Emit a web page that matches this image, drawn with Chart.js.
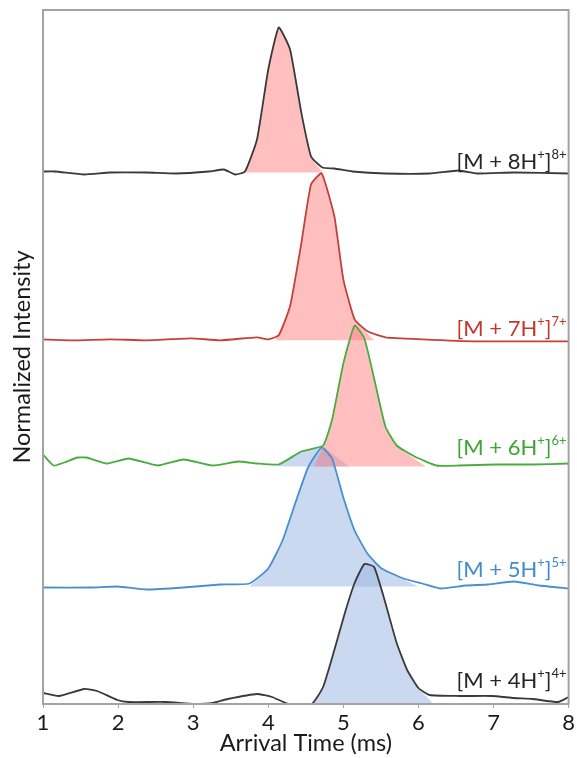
<!DOCTYPE html>
<html><head><meta charset="utf-8">
<script src="https://cdn.jsdelivr.net/npm/chart.js@4/dist/chart.umd.min.js"></script>
<style>html,body{margin:0;padding:0;background:#fff;}#wrap{width:577px;height:758px;}</style>
</head><body><div id="wrap"><canvas id="c" width="577" height="758"></canvas></div>
<script>
// ---- data (arrival time in ms, intensity above each trace's baseline, arbitrary units) ----
const xTickValues = [1, 2, 3, 4, 5, 6, 7, 8];
const seriesNames = ["[M + 8H⁺]⁸⁺", "[M + 7H⁺]⁷⁺", "[M + 6H⁺]⁶⁺", "[M + 5H⁺]⁵⁺", "[M + 4H⁺]⁴⁺"];
const offsets = [5.315, 3.637, 2.375, 1.175, 0];

const time8 = [1.0,1.16,1.55,1.89,2.38,2.77,3.21,3.41,3.56,3.69,3.85,4.0,4.14,4.29,4.44,4.57,4.72,4.88,5.12,5.56,6.15,6.54,6.78,7.27,8.0];
const int8  = [0.01,0.01,-0.02,0,0,-0.01,0.01,0.03,-0.02,0.01,0.33,1.03,1.45,1.23,0.6,0.16,0.05,0.04,0.01,-0.01,-0.01,0.02,-0.01,0,-0.01];
const time7 = [1.0,1.41,1.89,2.38,2.97,3.36,3.85,4.0,4.14,4.29,4.44,4.57,4.71,4.88,5.0,5.15,5.32,5.56,6.05,6.78,8.0];
const int7  = [0.01,0,0.01,0,0.02,0,0.03,0.01,0.05,0.34,0.97,1.56,1.67,1.24,0.61,0.21,0.09,0.03,0.01,-0.01,-0.01];
const time6 = [1.0,1.14,1.28,1.46,1.58,1.85,2.14,2.53,2.87,3.26,3.6,3.85,4.14,4.44,4.73,4.85,5.0,5.15,5.28,5.41,5.56,5.71,5.95,6.24,6.54,7.03,7.52,8.0];
const int6  = [0.12,0.01,0.04,0.09,0.09,0.03,0.08,0.01,0.07,0.01,0.05,0.03,0.02,0.15,0.21,0.47,1.03,1.41,1.28,0.88,0.4,0.21,0.1,0.01,0.01,0.02,0.02,0.03];
const time5 = [1.0,1.65,1.99,2.38,2.87,3.36,3.75,4.0,4.19,4.34,4.53,4.71,4.85,5.0,5.15,5.32,5.51,5.8,6.05,6.29,6.63,6.93,7.27,7.61,8.0];
const int5  = [-0.01,-0.01,0,-0.03,-0.01,0.02,0.03,0.18,0.46,0.79,1.19,1.39,1.28,0.89,0.56,0.33,0.18,0.08,0.03,-0.02,0.01,0.02,0.05,0.01,-0.02];
const time4 = [1.0,1.21,1.55,1.72,1.99,2.14,2.63,3.02,3.26,3.46,3.85,4.05,4.27,4.58,4.73,4.88,5.02,5.15,5.28,5.41,5.56,5.71,5.85,6.0,6.15,6.54,6.98,7.27,7.52,7.86,8.0];
const int4  = [0.11,0.08,0.15,0.13,0.04,0.02,0.02,0,0.01,0.05,0.1,0.07,0,0,0.17,0.54,0.91,1.21,1.4,1.37,1.01,0.61,0.34,0.16,0.09,0.08,0.08,0.06,0.05,0.02,0.07];

// shaded conformer components (red = extended, blue = compact)
const fill8Time = [3.69,3.85,4.0,4.14,4.29,4.44,4.57,4.72];
const fill8Int  = [0,0.33,1.03,1.45,1.23,0.6,0.16,0];
const fill7Time = [4.1,4.29,4.44,4.57,4.71,4.88,5.0,5.15,5.41];
const fill7Int  = [0,0.34,0.97,1.56,1.67,1.24,0.61,0.21,0];
const fill6RedTime = [4.61,4.73,4.85,5.0,5.15,5.28,5.41,5.56,5.71,6.1];
const fill6RedInt  = [0,0.2,0.47,1.03,1.41,1.28,0.88,0.4,0.21,0];
const fill6BlueTime = [4.12,4.3,4.44,4.6,4.73,4.9,5.08];
const fill6BlueInt  = [0,0.1,0.15,0.19,0.2,0.1,0];
const fill5Time = [3.75,4.0,4.19,4.34,4.53,4.71,4.85,5.0,5.15,5.32,5.51,6.0];
const fill5Int  = [0,0.18,0.46,0.79,1.19,1.39,1.28,0.89,0.56,0.33,0.18,0];
const fill4Time = [4.58,4.73,4.88,5.02,5.15,5.28,5.41,5.56,5.71,5.85,6.0,6.2];
const fill4Int  = [0,0.17,0.54,0.91,1.21,1.4,1.37,1.01,0.61,0.34,0.16,0];

// ---- styling ----
const lineColors = ["#3a3a3a", "#c4413b", "#4aac3f", "#4a8fd0", "#3a3a3a"];
const labelColors = ["#262626", "#c0392b", "#3ca635", "#3f8ccf", "#262626"];
const RED_FILL = "rgba(255,128,128,0.5)";
const BLUE_FILL = "rgba(150,180,226,0.5)";
const FONT = "Lato, 'Open Sans', sans-serif";

function pts(t, v, off) { return t.map((x, i) => ({ x: x, y: v[i] + off })); }

const traces = [[time8, int8], [time7, int7], [time6, int6], [time5, int5], [time4, int4]];
const datasets = [];
traces.forEach((tr, k) => {
  datasets.push({ label: seriesNames[k], data: pts(tr[0], tr[1], offsets[k]), borderColor: lineColors[k],
    borderWidth: 1.8, pointRadius: 0, tension: 0.15, fill: false, order: 1 });
});
const fills = [
  [fill8Time, fill8Int, 0, RED_FILL], [fill7Time, fill7Int, 1, RED_FILL],
  [fill6RedTime, fill6RedInt, 2, RED_FILL], [fill6BlueTime, fill6BlueInt, 2, BLUE_FILL],
  [fill5Time, fill5Int, 3, BLUE_FILL], [fill4Time, fill4Int, 4, BLUE_FILL]
];
fills.forEach(f => {
  datasets.push({ label: "", data: pts(f[0], f[1], offsets[f[2]]), borderWidth: 0, borderColor: "rgba(0,0,0,0)",
    backgroundColor: f[3], pointRadius: 0, tension: 0.15, fill: { value: offsets[f[2]] }, order: 2 });
});

const labelLift = [12, 12, 20, 18, 24];
const supMap = { "⁺": "+", "⁰": "0", "¹": "1", "²": "2", "³": "3", "⁴": "4", "⁵": "5", "⁶": "6", "⁷": "7", "⁸": "8", "⁹": "9" };

const framePlugin = {
  id: "frame",
  afterDatasetsDraw(chart) {
    const { ctx, chartArea: a, scales } = chart;
    ctx.save();
    ctx.strokeStyle = "#a3a3a3";
    ctx.lineWidth = 2;
    ctx.strokeRect(a.left, a.top, a.right - a.left, a.bottom - a.top);
    // series labels
    const y = scales.y;
    seriesNames.forEach((name, k) => {
      const runs = [];
      for (const ch of name) {
        const sup = supMap[ch] !== undefined;
        const c = sup ? supMap[ch] : ch;
        if (runs.length && runs[runs.length - 1].sup === sup) runs[runs.length - 1].txt += c;
        else runs.push({ sup: sup, txt: c });
      }
      const main = "22px " + FONT, small = "13px " + FONT;
      let total = 0;
      runs.forEach(r => { ctx.font = r.sup ? small : main; r.w = ctx.measureText(r.txt).width; total += r.w; });
      let x = a.right - 2 - total;
      const cy = y.getPixelForValue(offsets[k]) - labelLift[k];
      ctx.fillStyle = labelColors[k];
      ctx.textBaseline = "alphabetic";
      runs.forEach(r => {
        ctx.font = r.sup ? small : main;
        ctx.fillText(r.txt, x, r.sup ? cy - 2 : cy + 8);
        x += r.w;
      });
    });
    ctx.restore();
  }
};

new Chart(document.getElementById("c"), {
  type: "line",
  data: { datasets: datasets },
  options: {
    responsive: false, devicePixelRatio: 1, animation: false,
    layout: { padding: { top: 10, right: 7, left: 0, bottom: 0 } },
    plugins: { legend: { display: false }, tooltip: { enabled: false } },
    scales: {
      x: {
        type: "linear", min: 1, max: 8,
        afterBuildTicks(s) { s.ticks = xTickValues.map(v => ({ value: v })); },
        afterFit(s) { s.height = 54; },
        grid: { drawOnChartArea: false, drawTicks: true, tickLength: 4, color: "#a3a3a3" },
        border: { display: false },
        ticks: { color: "#1a1a1a", font: { family: FONT, size: 22 }, padding: 2, maxRotation: 0 },
        title: { display: true, text: "Arrival Time (ms)", color: "#1a1a1a", font: { family: FONT, size: 23.5 }, padding: { top: 0, bottom: 0 } }
      },
      y: {
        min: 0, max: 6.94,
        afterFit(s) { s.width = 43; },
        grid: { display: false }, border: { display: false },
        ticks: { display: false },
        title: { display: true, text: "Normalized Intensity", color: "#1a1a1a", font: { family: FONT, size: 23.5 }, padding: { top: 8, bottom: 0 } }
      }
    }
  },
  plugins: [framePlugin]
});
</script></body></html>
